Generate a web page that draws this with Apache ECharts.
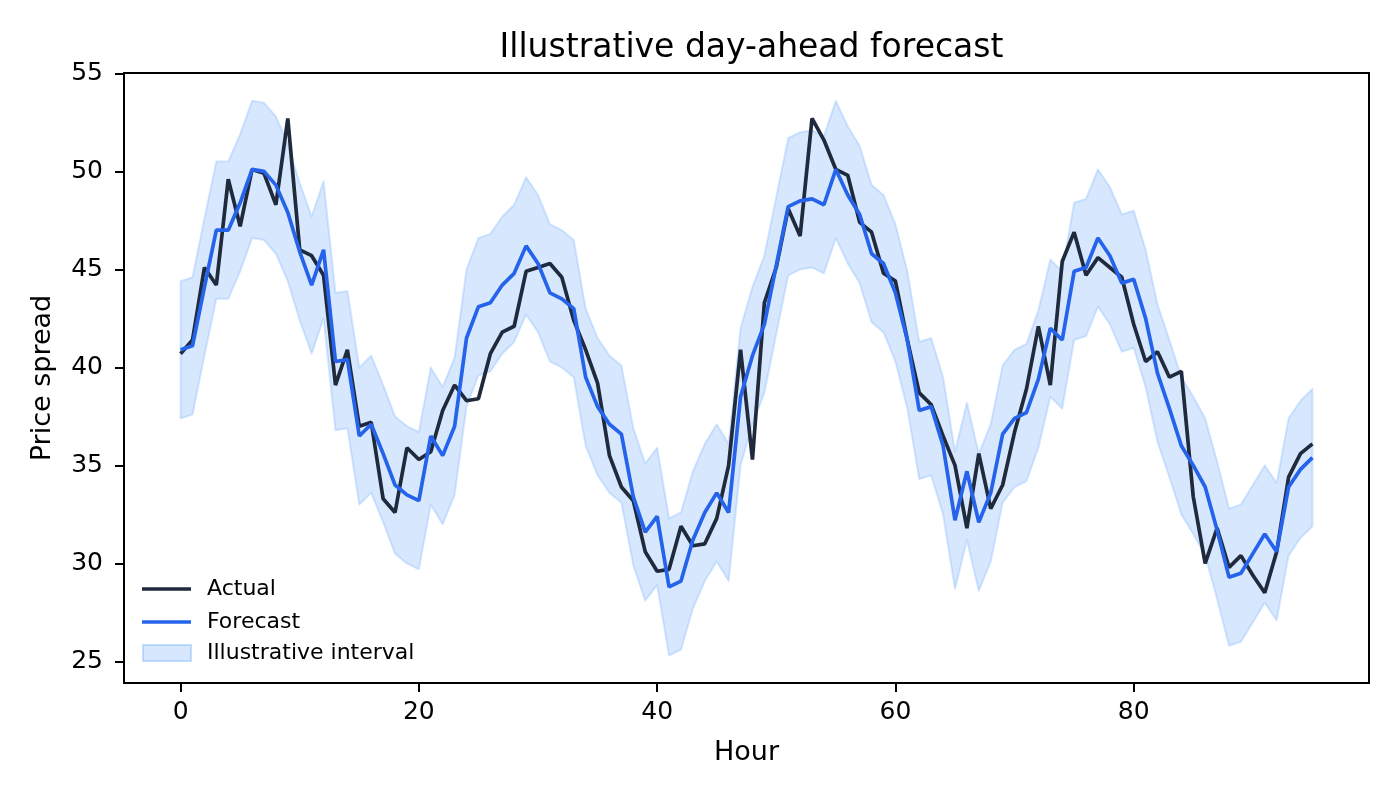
<!DOCTYPE html>
<html>
<head>
<meta charset="utf-8">
<script src="https://cdn.jsdelivr.net/npm/echarts@6/dist/echarts.min.js"></script>
<style>
html,body{margin:0;padding:0;background:#fff;}
#chart{width:1400px;height:800px;}
</style>
</head>
<body>
<div id="chart"></div>
<script>
const titleText = 'Illustrative day-ahead forecast';
const xName = 'Hour';
const yName = 'Price spread';
const xTicks = [0, 20, 40, 60, 80];
const yTicks = [25, 30, 35, 40, 45, 50, 55];

const actual = [40.7,41.4,45.1,44.2,49.6,47.2,50.1,49.9,48.3,52.7,46.0,45.7,44.7,39.1,40.9,37.0,37.2,33.3,32.6,35.9,
35.3,35.7,37.8,39.1,38.3,38.4,40.7,41.8,42.1,44.9,45.1,45.3,44.6,42.4,40.9,39.2,35.5,33.9,33.2,30.6,
29.6,29.7,31.9,30.9,31.0,32.3,35.0,40.9,35.3,43.3,45.1,48.1,46.7,52.7,51.6,50.1,49.8,47.4,46.9,44.8,
44.4,41.4,38.7,38.1,36.5,35.0,31.8,35.6,32.8,34.0,36.7,38.9,42.1,39.1,45.4,46.9,44.7,45.6,45.1,44.6,
42.2,40.3,40.8,39.5,39.8,33.4,30.0,31.8,29.8,30.4,29.4,28.5,30.6,34.4,35.6,36.1];

const forecast = [40.9,41.1,44.1,47.0,47.0,48.4,50.1,50.0,49.3,47.9,45.9,44.2,46.0,40.3,40.4,36.5,37.1,35.6,34.0,33.5,
33.2,36.5,35.5,37.0,41.5,43.1,43.3,44.2,44.8,46.2,45.3,43.8,43.5,43.0,39.5,38.0,37.1,36.6,33.4,31.6,
32.4,28.8,29.1,31.2,32.6,33.6,32.6,38.5,40.6,42.2,45.2,48.2,48.5,48.6,48.3,50.1,48.8,47.8,45.8,45.3,
43.8,41.4,37.8,38.0,36.0,32.2,34.7,32.1,33.6,36.6,37.4,37.7,39.4,42.0,41.4,44.9,45.1,46.6,45.7,44.3,
44.5,42.5,39.7,37.9,36.0,35.0,33.9,31.7,29.3,29.5,30.5,31.5,30.6,33.9,34.8,35.4];

const upper = [44.4,44.6,47.6,50.5,50.5,51.9,53.6,53.5,52.8,51.4,49.4,47.7,49.5,43.8,43.9,40.0,40.6,39.1,37.5,37.0,
36.7,40.0,39.0,40.5,45.0,46.6,46.8,47.7,48.3,49.7,48.8,47.3,47.0,46.5,43.0,41.5,40.6,40.1,36.9,35.1,
35.9,32.3,32.6,34.7,36.1,37.1,36.1,42.0,44.1,45.7,48.7,51.7,52.0,52.1,51.8,53.6,52.3,51.3,49.3,48.8,
47.3,44.9,41.3,41.5,39.5,35.7,38.2,35.6,37.1,40.1,40.9,41.2,42.9,45.5,44.9,48.4,48.6,50.1,49.2,47.8,
48.0,46.0,43.2,41.4,39.5,38.5,37.4,35.2,32.8,33.0,34.0,35.0,34.1,37.4,38.3,38.9];

const lower = [37.4,37.6,40.6,43.5,43.5,44.9,46.6,46.5,45.8,44.4,42.4,40.7,42.5,36.8,36.9,33.0,33.6,32.1,30.5,30.0,
29.7,33.0,32.0,33.5,38.0,39.6,39.8,40.7,41.3,42.7,41.8,40.3,40.0,39.5,36.0,34.5,33.6,33.1,29.9,28.1,
28.9,25.3,25.6,27.7,29.1,30.1,29.1,35.0,37.1,38.7,41.7,44.7,45.0,45.1,44.8,46.6,45.3,44.3,42.3,41.8,
40.3,37.9,34.3,34.5,32.5,28.7,31.2,28.6,30.1,33.1,33.9,34.2,35.9,38.5,37.9,41.4,41.6,43.1,42.2,40.8,
41.0,39.0,36.2,34.4,32.5,31.5,30.4,28.2,25.8,26.0,27.0,28.0,27.1,30.4,31.3,31.9];

const FONT = 'DejaVu Sans';
const cActual = '#1f2a3c';
const cForecast = '#2563eb';
const cFill = 'rgba(96,165,250,0.25)';
const cEdge = 'rgba(96,165,250,0.25)';

const pairs = arr => arr.map((v, i) => [i, v]);
const bandData = lower.map((lo, i) => [i, lo, upper[i]]);

function renderBand(params, api) {
  if (params.dataIndex !== 0) return;
  const pts = [];
  for (let i = 0; i < bandData.length; i++) pts.push(api.coord([bandData[i][0], bandData[i][2]]));
  for (let i = bandData.length - 1; i >= 0; i--) pts.push(api.coord([bandData[i][0], bandData[i][1]]));
  return {
    type: 'polygon',
    shape: {points: pts},
    style: {fill: cFill, stroke: cEdge, lineWidth: 2, lineJoin: 'round'}
  };
}

const chart = echarts.init(document.getElementById('chart'), null, {renderer: 'canvas'});
chart.setOption({
  animation: false,
  backgroundColor: '#fff',
  textStyle: {fontFamily: FONT},
  title: {
    text: titleText,
    left: 746.5,
    textAlign: 'center',
    top: 27,
    textStyle: {fontFamily: FONT, fontSize: 33, fontWeight: 'normal', color: '#000'}
  },
  grid: {
    left: 124, right: 31, top: 73, bottom: 117,
    show: true, borderColor: '#000', borderWidth: 2, backgroundColor: 'transparent'
  },
  legend: [
    {
      data: ['Actual', 'Forecast'],
      orient: 'vertical',
      left: 142, top: 578,
      padding: 0,
      itemWidth: 49, itemHeight: 3.6, itemGap: 11,
      icon: 'rect',
      textStyle: {fontFamily: FONT, fontSize: 22, color: '#000', lineHeight: 22, padding: [0, 0, 0, 11]}
    },
    {
      data: [{name: 'Illustrative interval', itemStyle: {color: 'rgba(96,165,250,0.25)', borderColor: 'rgba(96,165,250,0.35)', borderWidth: 2}}],
      orient: 'vertical',
      left: 142, top: 642,
      padding: 0,
      itemWidth: 48, itemHeight: 16,
      icon: 'rect',
      textStyle: {fontFamily: FONT, fontSize: 22, color: '#000', lineHeight: 22, padding: [0, 0, 0, 11]}
    }
  ],
  xAxis: {
    type: 'value',
    min: -4.75, max: 99.75,
    name: xName,
    nameLocation: 'middle',
    nameGap: 56,
    nameTextStyle: {fontFamily: FONT, fontSize: 27, color: '#000'},
    axisLine: {show: true, onZero: false, lineStyle: {color: '#000', width: 2}},
    axisTick: {show: true, customValues: xTicks, length: 9, lineStyle: {color: '#000', width: 2}},
    axisLabel: {customValues: xTicks, fontFamily: FONT, fontSize: 25, color: '#000', margin: 17},
    splitLine: {show: false}
  },
  yAxis: {
    type: 'value',
    min: 23.9, max: 55.02,
    name: yName,
    nameLocation: 'middle',
    nameGap: 68,
    nameRotate: 90,
    nameTextStyle: {fontFamily: FONT, fontSize: 27, color: '#000'},
    axisLine: {show: true, onZero: false, lineStyle: {color: '#000', width: 2}},
    axisTick: {show: true, customValues: yTicks, length: 9, lineStyle: {color: '#000', width: 2}},
    axisLabel: {customValues: yTicks, fontFamily: FONT, fontSize: 25, color: '#000', margin: 21},
    splitLine: {show: false}
  },
  series: [
    {
      name: 'Illustrative interval',
      type: 'custom',
      renderItem: renderBand,
      data: bandData,
      encode: {x: 0, y: [1, 2]},
      itemStyle: {color: cFill},
      silent: true,
      z: 1
    },
    {
      name: 'Actual',
      type: 'line',
      data: pairs(actual),
      symbol: 'none',
      color: cActual,
      lineStyle: {color: cActual, width: 3.7},
      itemStyle: {color: cActual},
      z: 3
    },
    {
      name: 'Forecast',
      type: 'line',
      data: pairs(forecast),
      symbol: 'none',
      color: cForecast,
      lineStyle: {color: cForecast, width: 3.7},
      itemStyle: {color: cForecast},
      z: 4
    }
  ]
});
</script>
</body>
</html>
